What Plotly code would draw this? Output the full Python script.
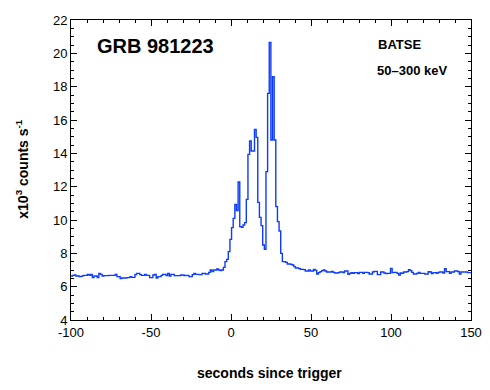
import plotly.graph_objects as go

# Time binning (seconds since trigger)
BIN_START = -100.0
BIN_WIDTH = 1.024

# Count rate (x10^3 counts/s)
pre_burst = [
    6.64, 6.68, 6.70, 6.64, 6.64, 6.60, 6.62, 6.66, 6.68, 6.68,
    6.74, 6.68, 6.74, 6.54, 6.64, 6.64, 6.54, 6.80, 6.74, 6.64,
    6.66, 6.66, 6.66, 6.68, 6.68, 6.68, 6.68, 6.74, 6.60, 6.60,
    6.48, 6.52, 6.52, 6.52, 6.54, 6.54, 6.60, 6.56, 6.56, 6.72,
    6.80, 6.80, 6.72, 6.68, 6.68, 6.74, 6.68, 6.68, 6.54, 6.54,
    6.70, 6.74, 6.52, 6.60, 6.60, 6.68, 6.74, 6.74, 6.66, 6.80,
    6.64, 6.74, 6.74, 6.66, 6.66, 6.66, 6.66, 6.70, 6.70, 6.66,
    6.68, 6.68, 6.60, 6.60, 6.72, 6.80, 6.74, 6.74, 6.72, 6.72,
    6.80, 6.80, 6.76, 6.76, 6.86, 7.00, 6.90, 7.00, 7.00, 7.06,
    7.00, 6.96, 7.00,
]
burst = [
    7.16, 7.50, 7.64, 8.10, 8.84, 9.54, 10.10, 10.94, 10.56, 12.28,
    9.60, 9.56, 9.70, 9.84, 11.24, 13.94, 14.74, 14.14, 14.14, 15.44,
    14.96, 11.06, 10.16, 9.66, 8.50, 8.24, 12.90, 17.60, 20.66, 14.80,
    18.60, 14.80, 10.80, 9.90, 9.34, 8.00,
]
post_burst = [
    7.50, 7.50, 7.46, 7.36, 7.36, 7.34, 7.30, 7.20, 7.12, 7.12,
    7.08, 7.04, 7.04, 7.02, 6.94, 6.94, 7.00, 6.94, 6.94, 7.04,
    6.98, 6.76, 6.84, 6.90, 6.96, 7.00, 6.94, 6.88, 6.88, 6.88,
    6.92, 6.86, 6.82, 6.82, 6.84, 6.88, 6.88, 6.84, 6.94, 6.94,
    6.74, 6.80, 6.84, 6.80, 6.84, 6.84, 6.78, 6.86, 6.86, 6.80,
    6.86, 6.86, 6.84, 6.76, 6.76, 6.88, 6.92, 6.92, 6.72, 6.72,
    6.88, 6.88, 6.82, 6.78, 6.80, 6.80, 7.10, 6.84, 6.86, 6.86,
    6.80, 6.70, 6.82, 6.80, 6.88, 6.88, 6.90, 7.02, 6.96, 6.86,
    6.76, 6.76, 6.80, 6.86, 6.80, 6.80, 6.80, 6.76, 6.76, 6.90,
    6.88, 6.78, 6.84, 6.84, 6.80, 6.86, 6.88, 6.88, 6.82, 7.08,
    6.90, 6.90, 6.80, 6.88, 6.88, 6.94, 6.94, 6.90, 6.76, 6.88,
    6.88, 6.88, 6.88, 6.84, 6.84, 6.84,
]

x_ticks = [-100, -50, 0, 50, 100, 150]
y_ticks = [4, 6, 8, 10, 12, 14, 16, 18, 20, 22]

rates = pre_burst + burst + post_burst
edges = [BIN_START + BIN_WIDTH * i for i in range(len(rates) + 1)]
yvals = rates + [rates[-1]]

FONT = "Liberation Sans, Arial, Helvetica, sans-serif"
LINE_BLUE = "#0d3bff"

fig = go.Figure()
fig.add_trace(go.Scatter(
    x=edges, y=yvals, mode="lines",
    line=dict(shape="hv", color=LINE_BLUE, width=1.4),
    hoverinfo="skip",
))

axis_common = dict(
    showline=True, linecolor="black", linewidth=1, mirror="allticks",
    ticks="inside", ticklen=6, tickwidth=1, tickcolor="black",
    showgrid=False, zeroline=False,
    tickfont=dict(family=FONT, size=13, color="black"),
    automargin=False,
)

# The page body has an 8px default margin, so the figure is 8px smaller
# and its left/top margins 8px narrower to land the plot where the reference has it.
fig.update_layout(
    template="none",
    width=482, height=382,
    margin=dict(l=63, r=19, t=12, b=70),
    paper_bgcolor="white", plot_bgcolor="white",
    showlegend=False,
    xaxis=dict(
        range=[-100, 150], tickmode="array", tickvals=x_ticks,
        ticktext=[str(v) for v in x_ticks],
        minor=dict(dtick=10, tick0=-100, ticks="inside", ticklen=3,
                   tickcolor="black", showgrid=False),
        **axis_common,
    ),
    yaxis=dict(
        range=[4, 22], tickmode="array", tickvals=y_ticks,
        ticktext=[str(v) for v in y_ticks],
        minor=dict(dtick=0.5, tick0=4, ticks="inside", ticklen=3,
                   tickcolor="black", showgrid=False),
        **axis_common,
    ),
    annotations=[
        dict(text="<b>GRB 981223</b>", xref="paper", yref="paper",
             x=0.06, y=0.9117, xanchor="left", yanchor="middle",
             showarrow=False, font=dict(family=FONT, size=20, color="black")),
        dict(text="<b>BATSE</b>", xref="paper", yref="paper",
             x=0.7625, y=0.9167, xanchor="left", yanchor="middle",
             showarrow=False, font=dict(family=FONT, size=13, color="black")),
        dict(text="<b>50\u2013300 keV</b>", xref="paper", yref="paper",
             x=0.76, y=0.8333, xanchor="left", yanchor="middle",
             showarrow=False, font=dict(family=FONT, size=13, color="black")),
        dict(text="<b>seconds since trigger</b>", xref="paper", yref="paper",
             x=0.495, y=-0.175, xanchor="center", yanchor="middle",
             showarrow=False, font=dict(family=FONT, size=14, color="black")),
        dict(text="<b>x10<sup>3</sup> counts s<sup>-1</sup></b>",
             xref="paper", yref="paper", x=-0.121, y=0.503,
             xanchor="center", yanchor="middle", textangle=-90,
             showarrow=False, font=dict(family=FONT, size=14, color="black")),
    ],
)

fig.write_html("out.html")
